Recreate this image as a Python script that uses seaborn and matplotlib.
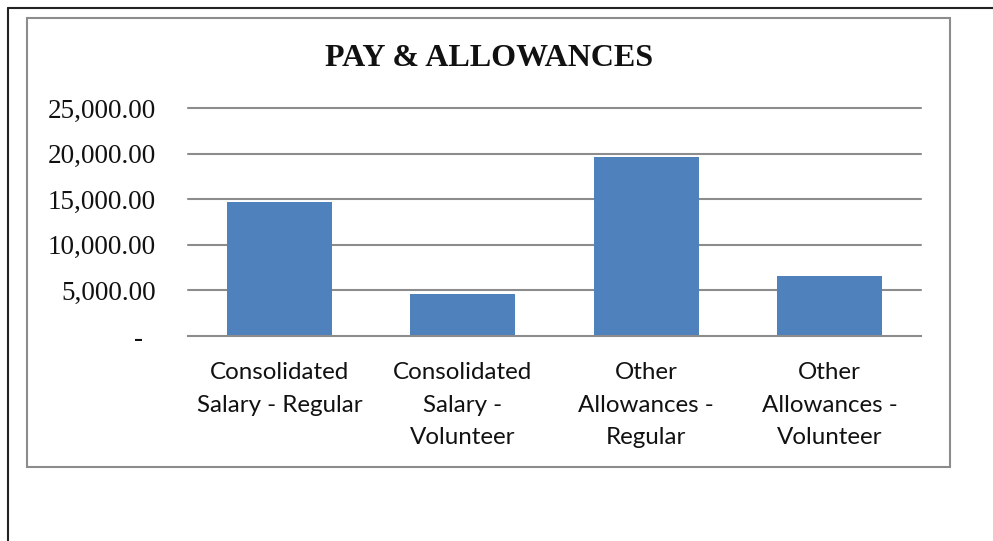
import matplotlib
matplotlib.use("Agg")
import matplotlib.pyplot as plt
import seaborn as sns
import pandas as pd
from matplotlib.lines import Line2D
from matplotlib.patches import Rectangle

categories = ["Consolidated\nSalary - Regular", "Consolidated\nSalary -\nVolunteer",
              "Other\nAllowances -\nRegular", "Other\nAllowances -\nVolunteer"]
values = [14700, 4600, 19600, 6600]
yticks = [0, 5000, 10000, 15000, 20000, 25000]
ytick_labels = ["-  ", "5,000.00", "10,000.00", "15,000.00", "20,000.00", "25,000.00"]
title = "PAY & ALLOWANCES"

df = pd.DataFrame({"category": categories, "value": values})

sns.set_theme(style="white")
fig = plt.figure(figsize=(9.93, 5.41), dpi=100)
W, H = 993, 541

def fx(x): return x / W
def fy(y): return 1 - y / H

# page frame lines
fig.add_artist(Line2D([fx(7.5), fx(7.5)], [fy(8), 0], color="#222222", lw=1.5))
fig.add_artist(Line2D([fx(7.5), 1], [fy(8), fy(8)], color="#222222", lw=1.5))
# chart box
fig.add_artist(Rectangle((fx(27), fy(467)), fx(950) - fx(27), fy(18) - fy(467),
                         fill=False, edgecolor="#8c8c8c", lw=1.5))

ax = fig.add_axes([fx(188), fy(336), fx(921) - fx(188), fy(108) - fy(336)])
sns.barplot(data=df, x="category", y="value", color="#4f81bd", saturation=1,
            width=0.573, ax=ax, edgecolor="none")
ax.set_ylim(0, 25000)
ax.set_xlim(-0.5, 3.5)
ax.set_yticks(yticks)
ax.set_yticklabels(ytick_labels, fontfamily="Liberation Serif", fontsize=19.5, color="#111111")
ax.tick_params(axis="y", length=0, pad=23)
ax.tick_params(axis="x", length=0, pad=19)
for lab in ax.get_xticklabels():
    lab.set_fontfamily("Lato")
    lab.set_fontsize(17.4)
    lab.set_color("#111111")
    lab.set_linespacing(1.67)
    lab.set_verticalalignment("top")
ax.set_xlabel("")
ax.set_ylabel("")
ax.grid(False)
for y in yticks[1:]:
    ax.axhline(y, color="#8c8c8c", lw=1.5, zorder=0, clip_on=False)
for s in ["top", "right", "left"]:
    ax.spines[s].set_visible(False)
ax.spines["bottom"].set_color("#8c8c8c")
ax.spines["bottom"].set_linewidth(1.5)
ax.set_facecolor("none")

fig.text(fx(489), fy(59), title, ha="center", va="center", fontfamily="Liberation Serif",
         fontweight="bold", fontsize=23, color="#111111")

fig.savefig("out.png", dpi=100)
